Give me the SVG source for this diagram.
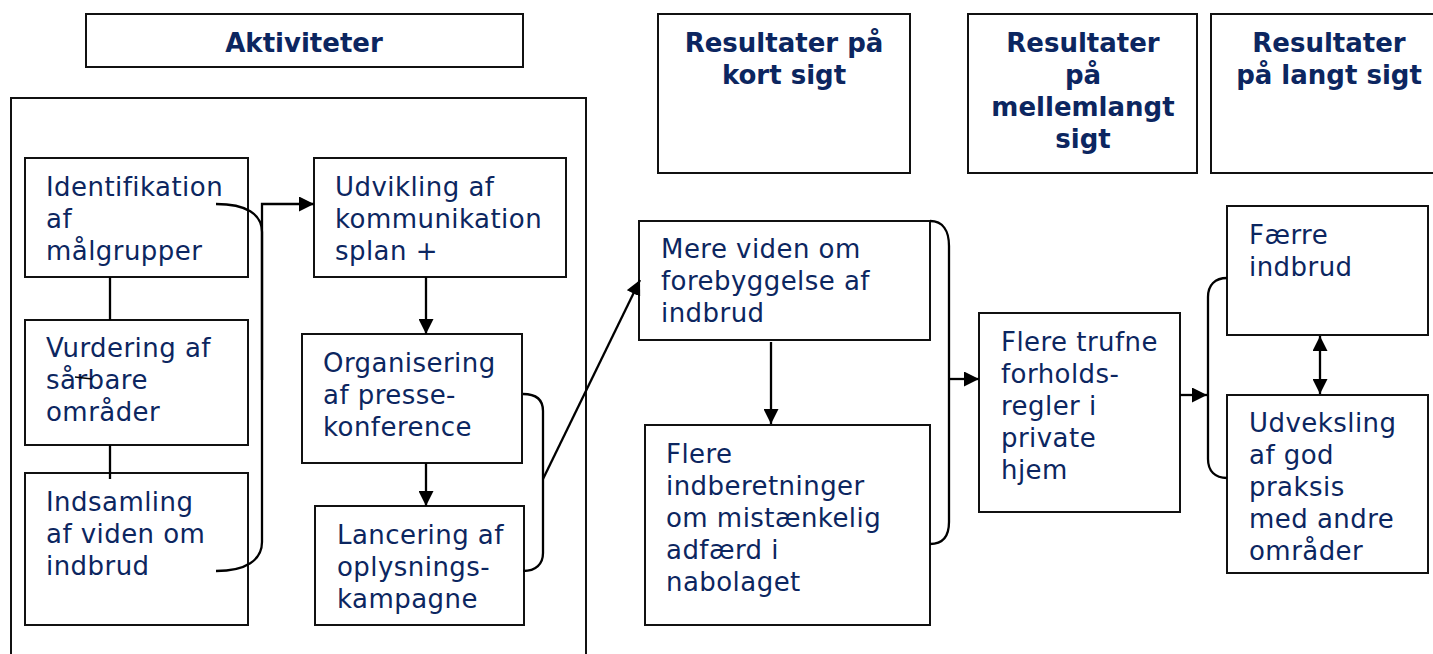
<svg xmlns="http://www.w3.org/2000/svg" width="1433" height="654" viewBox="0 0 1433 654">
<style>
.box{fill:#fff;stroke:#111;stroke-width:2}
.t{font-family:"DejaVu Sans",Verdana,sans-serif;font-size:26px;letter-spacing:0.45px;fill:#0c2660}
.h{font-family:"DejaVu Sans",Verdana,sans-serif;font-size:26px;font-weight:bold;fill:#0c2660;text-anchor:middle}
.c{fill:none;stroke:#000;stroke-width:2.3}
</style>
<defs>
<marker id="ah" viewBox="0 0 15 15" refX="15" refY="7.5" markerWidth="15" markerHeight="15" markerUnits="userSpaceOnUse" orient="auto-start-reverse">
<path d="M0,0 L15,7.5 L0,15 z" fill="#000"/>
</marker>
</defs>
<rect width="1433" height="654" fill="#fff"/>

<g id="container"><rect class="box" x="11" y="98" width="575" height="580"/></g>

<g id="hdr-aktiviteter"><rect class="box" x="86" y="14" width="437" height="53"/><text class="h" x="304" y="52">Aktiviteter</text></g>
<g id="hdr-kort"><rect class="box" x="658" y="14" width="252" height="159"/><text class="h" x="784"><tspan x="784" y="52">Resultater på</tspan><tspan x="784" y="84">kort sigt</tspan></text></g>
<g id="hdr-mellem"><rect class="box" x="968" y="14" width="229" height="159"/><text class="h"><tspan x="1083" y="52">Resultater</tspan><tspan x="1083" y="84">på</tspan><tspan x="1083" y="116">mellemlangt</tspan><tspan x="1083" y="148">sigt</tspan></text></g>
<g id="hdr-langt"><rect class="box" x="1211" y="14" width="240" height="159"/><text class="h"><tspan x="1329" y="52">Resultater</tspan><tspan x="1329" y="84">på langt sigt</tspan></text></g>

<g id="n-identifikation"><rect class="box" x="25" y="158" width="223" height="119"/><text class="t"><tspan x="46" y="196">Identifikation</tspan><tspan x="46" y="228">af</tspan><tspan x="46" y="260">målgrupper</tspan></text></g>
<g id="n-vurdering"><rect class="box" x="25" y="320" width="223" height="125"/><text class="t"><tspan x="46" y="357">Vurdering af</tspan><tspan x="46" y="389">sårbare</tspan><tspan x="46" y="421">områder</tspan></text></g>
<g id="n-indsamling"><rect class="box" x="25" y="473" width="223" height="152"/><text class="t"><tspan x="46" y="511">Indsamling</tspan><tspan x="46" y="543">af viden om</tspan><tspan x="46" y="575">indbrud</tspan></text></g>
<g id="n-udvikling"><rect class="box" x="314" y="158" width="252" height="119"/><text class="t"><tspan x="335" y="196">Udvikling af</tspan><tspan x="335" y="228">kommunikation</tspan><tspan x="335" y="260">splan +</tspan></text></g>
<g id="n-organisering"><rect class="box" x="302" y="334" width="220" height="129"/><text class="t"><tspan x="323" y="372">Organisering</tspan><tspan x="323" y="404">af presse-</tspan><tspan x="323" y="436">konference</tspan></text></g>
<g id="n-lancering"><rect class="box" x="315" y="506" width="209" height="119"/><text class="t"><tspan x="337" y="544">Lancering af</tspan><tspan x="337" y="576">oplysnings-</tspan><tspan x="337" y="608">kampagne</tspan></text></g>

<g id="n-mereviden"><rect class="box" x="639" y="221" width="291" height="119"/><text class="t"><tspan x="661" y="258">Mere viden om</tspan><tspan x="661" y="290">forebyggelse af</tspan><tspan x="661" y="322">indbrud</tspan></text></g>
<g id="n-indberetninger"><rect class="box" x="645" y="425" width="285" height="200"/><text class="t"><tspan x="666" y="463">Flere</tspan><tspan x="666" y="495">indberetninger</tspan><tspan x="666" y="527">om mistænkelig</tspan><tspan x="666" y="559">adfærd i</tspan><tspan x="666" y="591">nabolaget</tspan></text></g>
<g id="n-forholdsregler"><rect class="box" x="979" y="313" width="201" height="199"/><text class="t"><tspan x="1001" y="351">Flere trufne</tspan><tspan x="1001" y="383">forholds-</tspan><tspan x="1001" y="415">regler i</tspan><tspan x="1001" y="447">private</tspan><tspan x="1001" y="479">hjem</tspan></text></g>
<g id="n-faerre"><rect class="box" x="1227" y="206" width="201" height="129"/><text class="t"><tspan x="1249" y="244">Færre</tspan><tspan x="1249" y="276">indbrud</tspan></text></g>
<g id="n-udveksling"><rect class="box" x="1227" y="395" width="201" height="178"/><text class="t"><tspan x="1249" y="432">Udveksling</tspan><tspan x="1249" y="464">af god</tspan><tspan x="1249" y="496">praksis</tspan><tspan x="1249" y="528">med andre</tspan><tspan x="1249" y="560">områder</tspan></text></g>

<g id="connectors">
<path class="c" d="M110,277 L110,320"/>
<path class="c" d="M110,445 L110,479"/>
<path class="c" d="M216,204 C246,204 262,214 262,232 L262,542 C262,560 246,571 216,571"/>
<path class="c" d="M262,380 L262,204 L314,204" marker-end="url(#ah)"/>
<path class="c" d="M426,277 L426,334" marker-end="url(#ah)"/>
<path class="c" d="M426,463 L426,506" marker-end="url(#ah)"/>
<path class="c" d="M523,394 C536,394 543,400 543,411 L543,553 C543,564 536,571 523,571"/>
<path class="c" d="M543,479 L640,280" marker-end="url(#ah)"/>
<path class="c" d="M771,342 L771,424" marker-end="url(#ah)"/>
<path class="c" d="M930,221 C943,221 949,231 949,246 L949,522 C949,536 943,544 930,544"/>
<path class="c" d="M949,379 L979,379" marker-end="url(#ah)"/>
<path class="c" d="M1180,395 L1207,395" marker-end="url(#ah)"/>
<path class="c" d="M1227,278 C1215,278 1208,285 1208,297 L1208,459 C1208,471 1215,478 1227,478"/>
<path class="c" d="M1320,336 L1320,394" marker-start="url(#ah)" marker-end="url(#ah)"/>
<path d="M75,377 L92,379" stroke="#000" stroke-width="1.5"/>
</g>
</svg>
